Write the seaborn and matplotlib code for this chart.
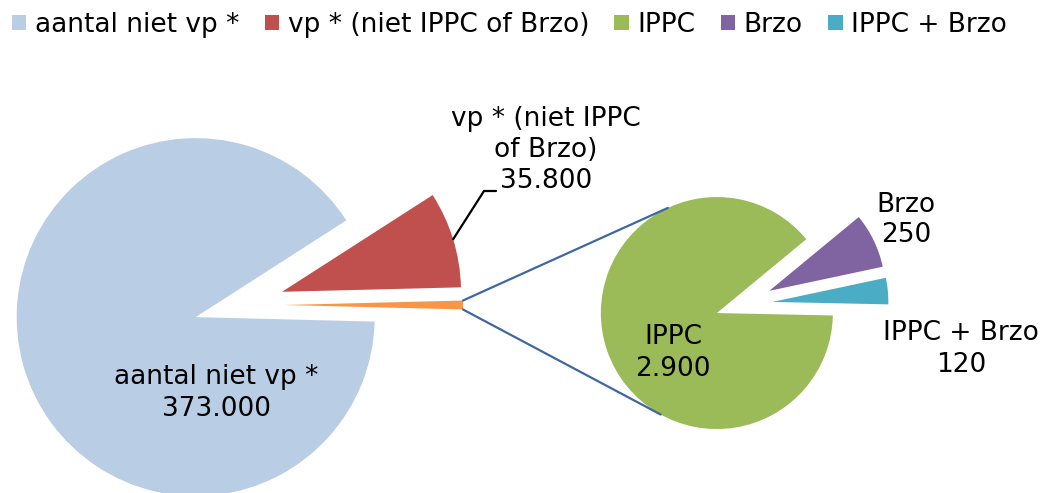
import matplotlib.pyplot as plt
import seaborn as sns
import numpy as np
from matplotlib.patches import Patch

# data: main pie and the split-out "other" part
main_labels = ['aantal niet vp *', 'vp * (niet IPPC of Brzo)']
main_values = [373000, 35800]
sub_labels = ['IPPC', 'Brzo', 'IPPC + Brzo']
sub_values = [2900, 250, 120]

colors = {
    'aantal niet vp *': '#B9CDE5',
    'vp * (niet IPPC of Brzo)': '#C0504D',
    'IPPC': '#9BBB59',
    'Brzo': '#8064A2',
    'IPPC + Brzo': '#4BACC6',
    'other': '#F79646',
}

sns.set_style("white")
plt.rcParams['font.family'] = ['DejaVu Sans']
plt.rcParams['text.color'] = 'black'

W, H = 1050, 493
fig = plt.figure(figsize=(W / 100, H / 100), dpi=100)
ax = fig.add_axes([0, 0, 1, 1])


def fmt(v):
    return f"{v:,}".replace(",", ".")


other_total = sum(sub_values)
total = sum(main_values) + other_total

# left pie: other, vp, niet vp (counter clockwise from 3 o'clock)
# note: explode is an absolute offset in data units here (radius != 1)
left_vals = [other_total, main_values[1], main_values[0]]
left_cols = [colors['other'], colors[main_labels[1]], colors[main_labels[0]]]
other_angle = other_total / total * 360
lw, _ = ax.pie(left_vals, colors=left_cols, startangle=-other_angle / 2,
               explode=[45, 45, 45], radius=179, center=(239, H - 305),
               counterclock=True, wedgeprops=dict(linewidth=0))

# right pie: IPPC + Brzo, Brzo, IPPC
right_vals = [sub_values[2], sub_values[1], sub_values[0]]
right_cols = [colors['IPPC + Brzo'], colors['Brzo'], colors['IPPC']]
rw, _ = ax.pie(right_vals, colors=right_cols, startangle=-1.2,
               explode=[32.5, 32.5, 24.5], radius=116, center=(740, H - 305),
               counterclock=True, wedgeprops=dict(linewidth=0))

# connector lines from the "other" slice to the second pie
ow = lw[0]
g = rw[2]
for a_from, a_to in [(ow.theta2, 115), (ow.theta1, -119)]:
    x0 = ow.center[0] + ow.r * np.cos(np.radians(a_from))
    y0 = ow.center[1] + ow.r * np.sin(np.radians(a_from))
    x1 = g.center[0] + g.r * np.cos(np.radians(a_to))
    y1 = g.center[1] + g.r * np.sin(np.radians(a_to))
    ax.plot([x0, x1], [y0, y1], color='#3F67A0', lw=1.6)

# leader line for the vp label
rwdg = lw[1]
mid = np.radians((rwdg.theta1 + rwdg.theta2) / 2)
lx = rwdg.center[0] + rwdg.r * np.cos(mid)
ly = rwdg.center[1] + rwdg.r * np.sin(mid)
ax.plot([lx, 484, 496], [ly, H - 191, H - 191], color='black', lw=1.6)

fs = 19
ax.text(216, H - 393, f"{main_labels[0]}\n{fmt(main_values[0])}", fontsize=fs,
        ha='center', va='center', multialignment='center', linespacing=1.25)
ax.text(546, H - 150, f"vp * (niet IPPC\nof Brzo)\n{fmt(main_values[1])}", fontsize=fs,
        ha='center', va='center', multialignment='center', linespacing=1.25)
ax.text(673, H - 353, f"{sub_labels[0]}\n{fmt(sub_values[0])}", fontsize=fs,
        ha='center', va='center', multialignment='center', linespacing=1.25)
ax.text(906, H - 220, f"{sub_labels[1]}\n{fmt(sub_values[1])}", fontsize=fs,
        ha='center', va='center', multialignment='center', linespacing=1.25)
ax.text(961, H - 349, f"{sub_labels[2]}\n{fmt(sub_values[2])}", fontsize=fs,
        ha='center', va='center', multialignment='center', linespacing=1.25)

# legend
legend_names = main_labels + sub_labels
handles = [Patch(facecolor=colors[n], edgecolor='none', label=n) for n in legend_names]
fig.legend(handles=handles, loc='upper left', bbox_to_anchor=(0.0, 1.0), ncol=5,
           frameon=False, fontsize=fs, handlelength=0.55, handleheight=0.55,
           handletextpad=0.33, columnspacing=0.95, borderpad=0.25, borderaxespad=0.2)

ax.set_xlim(0, W)
ax.set_ylim(0, H)
ax.set_aspect('equal')
ax.axis('off')

plt.savefig('out.png', dpi=100)
